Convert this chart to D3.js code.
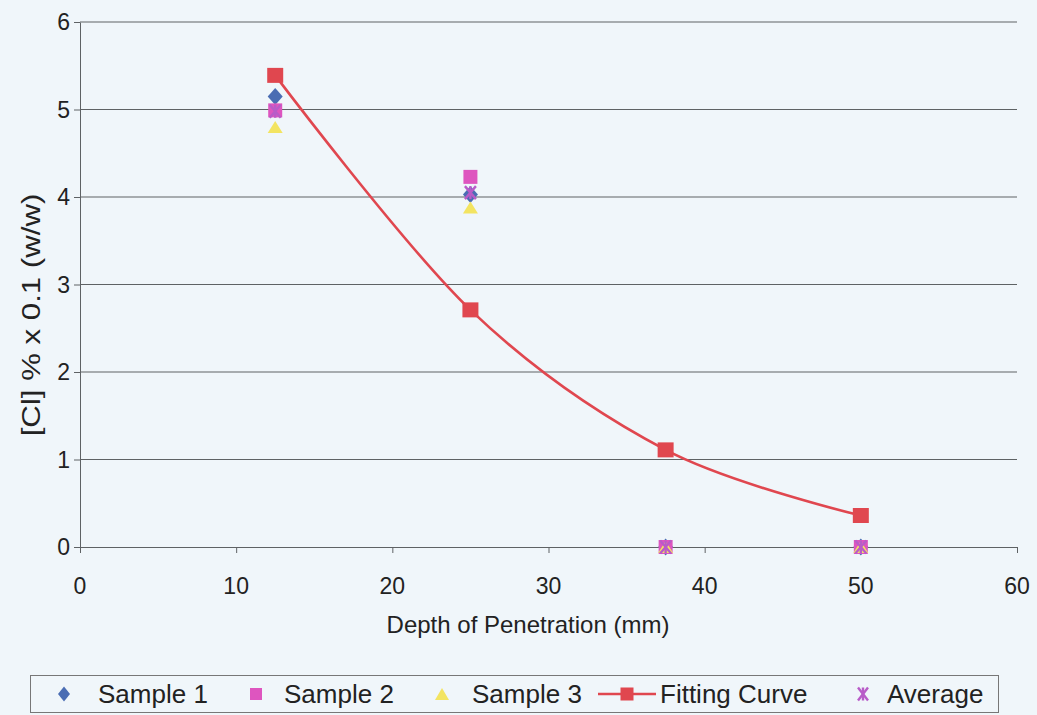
<!DOCTYPE html>
<html>
<head>
<meta charset="utf-8">
<script src="https://cdn.jsdelivr.net/npm/d3@7"></script>
<style>
  html, body { margin: 0; padding: 0; background: #f0f6fa; }
  svg { display: block; }
  text { font-family: "Liberation Sans", Arial, sans-serif; fill: #222; }
</style>
</head>
<body>
<svg id="chart" width="1037" height="715"></svg>
<script>
// Chloride profile: sample readings, their mean and the fitted curve
const depths = [12.5, 25, 37.5, 50];
const sample1 = [5.15, 4.03, 0, 0];
const sample2 = [4.99, 4.23, 0, 0];
const sample3 = [4.80, 3.88, 0, 0];
const fitting = [5.39, 2.71, 1.11, 0.36];
const average = [4.98, 4.05, 0, 0];

const xTicks = [0, 10, 20, 30, 40, 50, 60];
const yTicks = [0, 1, 2, 3, 4, 5, 6];
const xTitle = "Depth of Penetration (mm)";
const yTitle = "[Cl] % x 0.1 (w/w)";
const legendNames = ["Sample 1", "Sample 2", "Sample 3", "Fitting Curve", "Average"];

const colors = {
  s1: "#4a6db3",
  s2: "#de55bf",
  s3: "#f3e461",
  fit: "#e0474f",
  avg: "#b85cc8",
  grid: "#5e6264",
  axis: "#5e6264"
};

const svg = d3.select("#chart");
const plot = { left: 80, right: 1017, top: 22, bottom: 547 };

const x = d3.scaleLinear().domain([0, 60]).range([plot.left, plot.right]);
const y = d3.scaleLinear().domain([0, 6]).range([plot.bottom, plot.top]);

function label(g, px, py, txt, size, anchor) {
  g.append("text")
    .attr("x", px).attr("y", py)
    .attr("text-anchor", anchor)
    .style("font-size", size + "px")
    .text(txt);
}

// horizontal gridlines
svg.append("g")
  .selectAll("line")
  .data(yTicks.filter(d => d > 0))
  .join("line")
  .attr("x1", plot.left).attr("x2", plot.right)
  .attr("y1", d => y(d)).attr("y2", d => y(d))
  .attr("stroke", colors.grid).attr("stroke-width", 1);

// axes (lines + tick marks from d3, labels drawn separately)
const gx = svg.append("g")
  .attr("transform", `translate(0,${plot.bottom})`)
  .call(d3.axisBottom(x).tickValues(xTicks).tickSize(6).tickSizeOuter(0).tickFormat(""));
const gy = svg.append("g")
  .attr("transform", `translate(${plot.left},0)`)
  .call(d3.axisLeft(y).tickValues(yTicks).tickSize(6).tickSizeOuter(0).tickFormat(""));
[gx, gy].forEach(g => {
  g.select(".domain").attr("stroke", colors.axis);
  g.selectAll(".tick line").attr("stroke", colors.axis);
});

const labels = svg.append("g");
xTicks.forEach(t => label(labels, x(t), 594, String(t), 23, "middle"));
yTicks.forEach(t => label(labels, 70, y(t) + 8, String(t), 23, "end"));

// axis titles (the vertical one is drawn slightly elongated)
label(labels, 528, 633, xTitle, 24, "middle");
labels.append("text")
  .attr("transform", `translate(40,315) rotate(-90) scale(1.2,1)`)
  .attr("text-anchor", "middle")
  .style("font-size", "26px")
  .text(yTitle);

// marker shapes as small path generators (w = width, h = height)
const diamondPath = (w, h) => `M0,${-h / 2}L${w / 2},0L0,${h / 2}L${-w / 2},0Z`;
const rectPath = (w, h) => `M${-w / 2},${-h / 2}h${w}v${h}h${-w}Z`;
const trianglePath = (w, h) => `M0,${-h / 2}L${w / 2},${h / 2}L${-w / 2},${h / 2}Z`;

function drawAsterisk(g, cx, cy, w, h, color) {
  const a = g.append("g").attr("transform", `translate(${cx},${cy})`)
    .attr("stroke", color).attr("stroke-width", 2.4);
  a.append("line").attr("x1", -w / 2).attr("y1", -h / 2).attr("x2", w / 2).attr("y2", h / 2);
  a.append("line").attr("x1", w / 2).attr("y1", -h / 2).attr("x2", -w / 2).attr("y2", h / 2);
  a.append("line").attr("x1", 0).attr("y1", -h / 2).attr("x2", 0).attr("y2", h / 2);
}

const marks = svg.append("g");

function points(values) {
  return depths.map((d, i) => ({ x: d, v: values[i] }));
}

marks.selectAll(".s1").data(points(sample1)).join("path")
  .attr("d", diamondPath(15, 17))
  .attr("transform", d => `translate(${x(d.x)},${y(d.v)})`)
  .attr("fill", colors.s1);

marks.selectAll(".s2").data(points(sample2)).join("path")
  .attr("d", rectPath(14, 14))
  .attr("transform", d => `translate(${x(d.x)},${y(d.v)})`)
  .attr("fill", colors.s2);

marks.selectAll(".s3").data(points(sample3)).join("path")
  .attr("d", trianglePath(15, 12))
  .attr("transform", d => `translate(${x(d.x)},${y(d.v)})`)
  .attr("fill", colors.s3);

// fitted curve: smoothed line through the model values
const line = d3.line()
  .x(d => x(d.x)).y(d => y(d.v))
  .curve(d3.curveCardinal.tension(0));
marks.append("path")
  .datum(points(fitting))
  .attr("d", line)
  .attr("fill", "none")
  .attr("stroke", colors.fit)
  .attr("stroke-width", 2.6);
marks.selectAll(".fit").data(points(fitting)).join("path")
  .attr("d", rectPath(16, 15))
  .attr("transform", d => `translate(${x(d.x)},${y(d.v)})`)
  .attr("fill", colors.fit);

points(average).forEach(d => drawAsterisk(marks, x(d.x), y(d.v), 11, 13, colors.avg));

// legend
const lg = svg.append("g");
lg.append("rect")
  .attr("x", 30.5).attr("y", 675.5).attr("width", 968).attr("height", 37)
  .attr("fill", "none").attr("stroke", "#777").attr("stroke-width", 1);

const ly = 694;
const legendItems = [
  { mx: 64, tx: 98, kind: "s1" },
  { mx: 256, tx: 284, kind: "s2" },
  { mx: 442, tx: 472, kind: "s3" },
  { mx: 627, tx: 660, kind: "fit" },
  { mx: 863, tx: 887, kind: "avg" }
];
legendItems.forEach((it, i) => {
  if (it.kind === "s1") {
    lg.append("path").attr("d", diamondPath(12, 15))
      .attr("transform", `translate(${it.mx},${ly})`).attr("fill", colors.s1);
  } else if (it.kind === "s2") {
    lg.append("path").attr("d", rectPath(12, 12))
      .attr("transform", `translate(${it.mx},${ly})`).attr("fill", colors.s2);
  } else if (it.kind === "s3") {
    lg.append("path").attr("d", trianglePath(14, 12))
      .attr("transform", `translate(${it.mx},${ly})`).attr("fill", colors.s3);
  } else if (it.kind === "fit") {
    lg.append("line").attr("x1", it.mx - 29).attr("x2", it.mx + 29)
      .attr("y1", ly).attr("y2", ly).attr("stroke", colors.fit).attr("stroke-width", 2.6);
    lg.append("path").attr("d", rectPath(13, 13))
      .attr("transform", `translate(${it.mx},${ly})`).attr("fill", colors.fit);
  } else {
    drawAsterisk(lg, it.mx, ly, 10, 13, colors.avg);
  }
  label(lg, it.tx, ly + 9, legendNames[i], 26, "start");
});
</script>
</body>
</html>
